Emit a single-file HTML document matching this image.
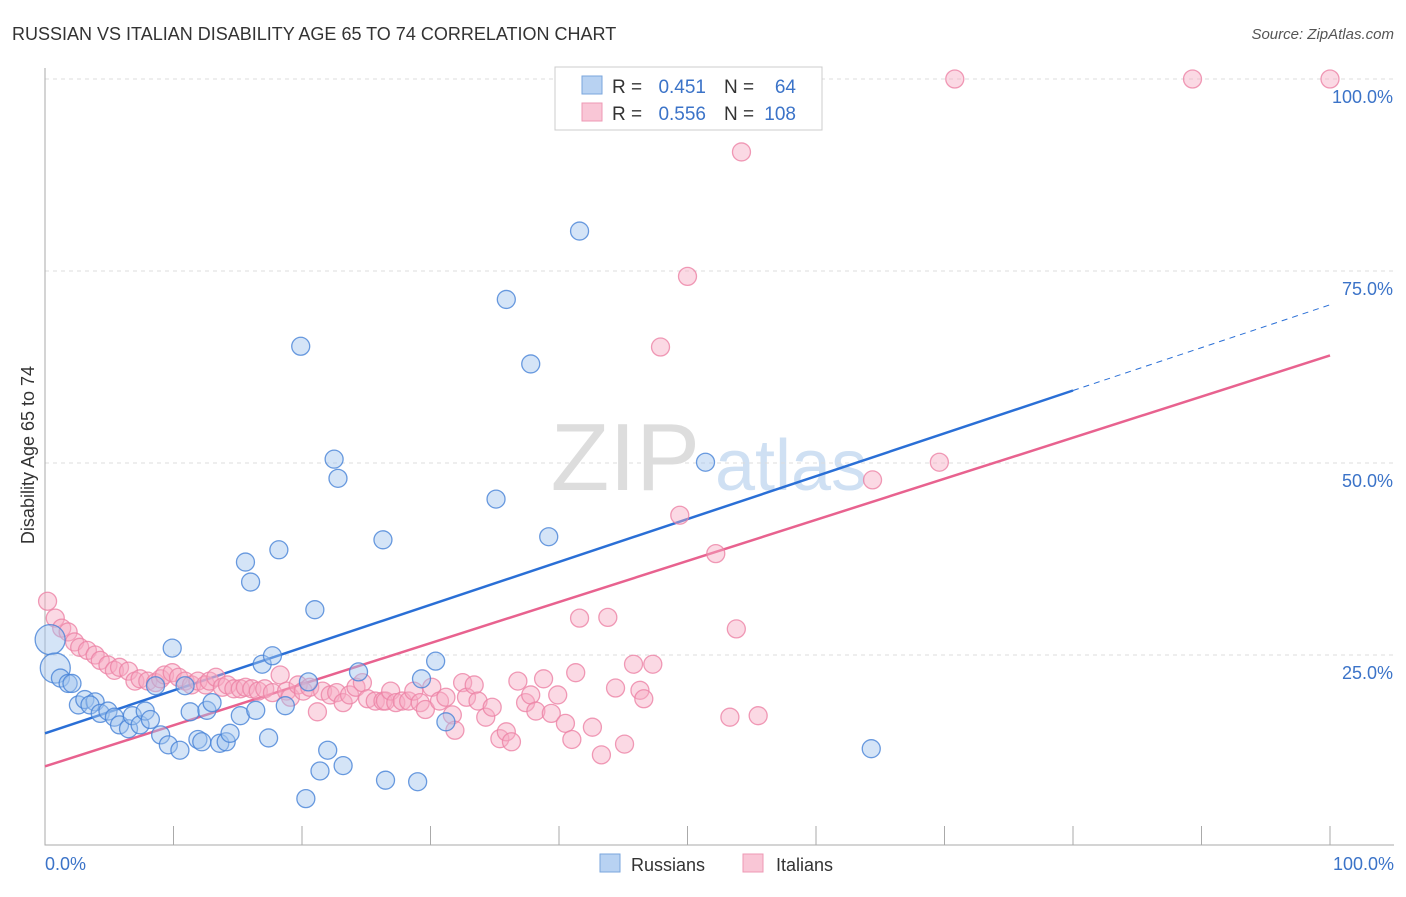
<!DOCTYPE html>
<html><head><meta charset="utf-8"><style>
body{margin:0;background:#fff;font-family:"Liberation Sans",sans-serif;}
svg text{font-family:"Liberation Sans",sans-serif;}
</style></head><body>
<svg id="chart" width="1406" height="892" xmlns="http://www.w3.org/2000/svg">
<text x="12" y="40" font-size="18" fill="#333">RUSSIAN VS ITALIAN DISABILITY AGE 65 TO 74 CORRELATION CHART</text>
<text x="1394" y="39" font-size="15" fill="#555" font-style="italic" text-anchor="end">Source: ZipAtlas.com</text>
<text x="700" y="490" font-size="96" fill="#ddd" font-family="Liberation Serif" text-anchor="end">ZIP</text>
<text x="715" y="490" font-size="72" fill="#cfe0f3">atlas</text>
<g id="grid"></g><g id="axes"></g><g id="trend"></g><g id="pts"></g>
<text x="34" y="455" font-size="18" fill="#333" transform="rotate(-90 34 455)" text-anchor="middle">Disability Age 65 to 74</text>
<text x="45" y="870" font-size="18" fill="#3b73c8">0.0%</text>
<text x="1394" y="870" font-size="18" fill="#3b73c8" text-anchor="end">100.0%</text>
<g>
<rect x="555" y="67" width="267" height="63" fill="#fff" stroke="#ccc"/>
<rect x="582" y="76" width="20" height="18" fill="#b8d2f2" stroke="#7aa6dc"/>
<rect x="582" y="103" width="20" height="18" fill="#f9c6d6" stroke="#ee98b4"/>
<text x="612" y="93" font-size="19" fill="#333">R =</text>
<text x="706" y="93" font-size="19" fill="#3b73c8" text-anchor="end">0.451</text>
<text x="724" y="93" font-size="19" fill="#333">N =</text>
<text x="796" y="93" font-size="19" fill="#3b73c8" text-anchor="end">64</text>
<text x="612" y="120" font-size="19" fill="#333">R =</text>
<text x="706" y="120" font-size="19" fill="#3b73c8" text-anchor="end">0.556</text>
<text x="724" y="120" font-size="19" fill="#333">N =</text>
<text x="796" y="120" font-size="19" fill="#3b73c8" text-anchor="end">108</text>
</g>
<g>
<rect x="600" y="854" width="20" height="18" fill="#b8d2f2" stroke="#7aa6dc"/>
<text x="631" y="871" font-size="18" fill="#333">Russians</text>
<rect x="743" y="854" width="20" height="18" fill="#f9c6d6" stroke="#ee98b4"/>
<text x="776" y="871" font-size="18" fill="#333">Italians</text>
</g>
</svg>
<script>
const yTicks=[25,50,75,100];
const yTickLabels=["25.0%","50.0%","75.0%","100.0%"];
const xTicks=[0,10,20,30,40,50,60,70,80,90,100];
const russX=[0.4,0.8,1.2,1.8,2.1,2.6,3.1,3.9,3.5,4.3,4.9,5.4,5.8,6.5,6.8,7.4,7.8,8.2,8.6,9.0,9.6,9.9,10.5,10.9,11.3,11.9,12.2,12.6,13.0,13.6,14.1,14.4,15.2,15.6,16.0,16.4,16.9,17.4,17.7,18.2,18.7,19.9,20.3,20.5,21.0,21.4,22.0,22.5,22.8,23.2,24.4,26.3,26.5,29.0,29.3,30.4,31.2,35.1,35.9,37.8,39.2,41.6,51.4,64.3];
const russY=[27.0,23.3,22.0,21.3,21.3,18.5,19.2,18.9,18.5,17.4,17.7,16.9,15.9,15.4,17.1,15.9,17.7,16.6,21.0,14.6,13.3,25.9,12.6,21.0,17.6,14.0,13.7,17.8,18.8,13.5,13.7,14.8,17.1,37.1,34.5,17.8,23.8,14.2,24.9,38.7,18.4,65.2,6.3,21.5,30.9,9.9,12.6,50.5,48.0,10.6,22.8,40.0,8.7,8.5,21.9,24.2,16.3,45.3,71.3,62.9,40.4,80.2,50.1,12.8];
const itaX=[0.2,0.8,1.3,1.8,2.3,2.7,3.3,3.9,4.3,4.9,5.4,5.8,6.5,7.0,7.4,8.0,8.6,9.0,9.3,9.9,10.4,10.9,11.4,11.9,12.5,12.8,13.3,13.8,14.2,14.7,15.2,15.6,16.1,16.6,17.1,17.7,18.3,18.8,19.1,19.7,20.1,20.6,21.2,21.6,22.2,22.7,23.2,23.7,24.2,24.7,25.1,25.7,26.3,26.5,26.9,27.3,27.8,28.3,28.7,29.2,29.6,30.1,30.7,31.2,31.7,31.9,32.5,32.8,33.4,33.7,34.3,34.8,35.4,35.9,36.3,36.8,37.4,37.8,38.2,38.8,39.4,39.9,40.5,
41.0,41.3,41.6,42.6,43.3,43.8,44.4,45.1,45.8,46.3,46.6,47.3,47.9,49.4,50.0,52.2,53.3,53.8,54.2,55.5,64.4,69.6,70.8,89.3,100];
const itaY=[32.0,29.8,28.5,28.0,26.7,26.0,25.6,25.0,24.3,23.7,23.0,23.4,22.9,21.6,21.9,21.6,21.4,21.9,22.4,22.7,22.1,21.6,21.1,21.6,21.1,21.6,22.1,20.8,21.1,20.6,20.6,20.8,20.6,20.3,20.6,20.1,22.4,20.3,19.5,21.1,20.3,20.8,17.6,20.3,19.8,20.1,18.8,19.8,20.8,21.4,19.3,19.0,19.0,19.0,20.3,18.8,19.0,19.0,20.3,18.8,17.9,20.8,19.0,19.5,17.2,15.2,21.4,19.5,21.1,19.0,16.9,18.2,14.1,15.0,13.7,21.6,18.8,19.8,17.7,21.9,17.4,19.8,16.1,
14.0,22.7,29.8,15.6,12.0,29.9,20.7,13.4,23.8,20.4,19.3,23.8,65.1,43.2,74.3,38.2,16.9,28.4,90.5,17.1,47.8,50.1,100,100,100];
const russTrend=[14.8,70.6], itaTrend=[10.5,64.0];
const X=v=>45+v*12.85, Y=v=>847-v*7.68;
const NS="http://www.w3.org/2000/svg";
function mk(t,a,p){const e=document.createElementNS(NS,t);for(const k in a)e.setAttribute(k,a[k]);p.appendChild(e);return e;}
const grid=document.getElementById('grid'),axes=document.getElementById('axes'),tr=document.getElementById('trend'),pts=document.getElementById('pts');
yTicks.forEach((t,i)=>{
 const l=mk('line',{x1:45,x2:1394,y1:Y(t),y2:Y(t),stroke:'#ddd','stroke-dasharray':'4,4'},grid);
 
 
 const tx=mk('text',{x:1393,y:Y(t)+24,'font-size':18,fill:'#3b73c8','text-anchor':'end'},grid);
 tx.textContent=yTickLabels[i];
 
 
});
const ax=mk('path',{d:'M45 68V845H1394',stroke:'#aaa',fill:'none'},axes);


xTicks.forEach(t=>{
 const l=mk('line',{x1:X(t),x2:X(t),y1:826,y2:845,stroke:'#aaa'},axes);
 
 
});
const brk=80;
const rl=mk('line',{x1:X(0),y1:Y(russTrend[0]),x2:X(brk),y2:Y(russTrend[0]+(russTrend[1]-russTrend[0])*brk/100),stroke:'#2a6fd6','stroke-width':2.5},tr);


const rd=mk('line',{x1:X(brk),y1:Y(russTrend[0]+(russTrend[1]-russTrend[0])*brk/100),x2:X(100),y2:Y(russTrend[1]),stroke:'#2a6fd6','stroke-width':1,'stroke-dasharray':'6,5'},tr);


const il=mk('line',{x1:X(0),y1:Y(itaTrend[0]),x2:X(100),y2:Y(itaTrend[1]),stroke:'#e8628f','stroke-width':2.5},tr);


itaX.forEach((x,i)=>{
 const c=mk('circle',{cx:X(x),cy:Y(itaY[i]),r:9,fill:'rgba(246,170,195,0.45)',stroke:'rgba(236,130,165,0.8)','stroke-width':1.3},pts);
 
 
});
russX.forEach((x,i)=>{
 const c=mk('circle',{cx:X(x),cy:Y(russY[i]),r:i<2?15:9,fill:'rgba(160,196,238,0.45)',stroke:'rgba(70,130,215,0.8)','stroke-width':1.3},pts);
 
 
});
</script>
</body></html>
